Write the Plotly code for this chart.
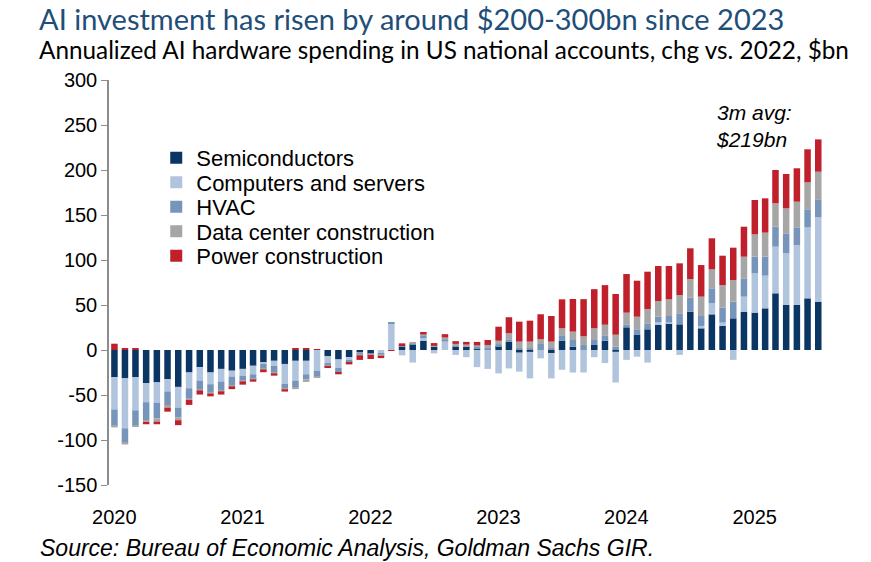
import pandas as pd
import plotly.graph_objects as go

# monthly, Jan 2020 - Jul 2025, $bn change vs. 2022 (annualized)
months = pd.date_range("2020-01-01", "2025-07-01", freq="MS")

semiconductors = [
    -30, -31.5, -30, -37, -36, -32.5, -41, -25, -19, -25, -21, -23,
    -21, -17.5, -13.5, -12, -15.5, -12, -12, 0, -7, -10.5, -8, -2.5,
    -4, 0, 0, 3.7, 6.5, 10.4, 3.7, 0, 3.7, 3.7, 1, 0,
    4.4, 9.3, -3, -2, 0, -3.5, 10.4, 3.7, 0, 5.6, 10.4, -1.9,
    25.2, 16.7, 23, 27.8, 29.6, 28.5, 42.6, 24.1, 39.6, 26.7, 35.2, 42.6,
    41.5, 46.3, 63, 50, 50, 57.4, 53.7,
]
computers_servers = [
    -36, -55.5, -37, -21, -22.5, -13.5, -23, -17.5, -15, -13, -14, -6.5,
    -7.5, -9.5, -2, -5.5, -22, -22, -15, -23, -7.5, -9.5, -3.5, 0,
    0, -4, 29.5, -6, -14, 3.3, -3.7, 9.3, -5.5, -8, -19, -21,
    -26, -20.5, -21, -29.5, -9.3, -28, -22, -25, -25, -8, -14.5, -34.3,
    -11, -7.4, -14, 2.9, 1.1, -5.5, 0, 2.6, 12.3, 3.7, -11, 16.7,
    43.7, 36.3, 51.8, 57.4, 66.7, 78.9, 93.7,
]
hvac = [
    -18, -16, -17, -20, -17.5, -16, -11, -11, -9.5, -9, -9.5, -9.5,
    -5.5, -5, -5.5, -7.5, -5.5, -7.5, -5.5, -6.5, -3, -4.5, -2, -3,
    -1, -1.5, 1.5, 1, 1, 2.2, 0, 2.6, 0.5, 0.5, 2.5, 3,
    2.2, 2.6, 1.9, 1.9, 6.7, 1.9, 5.2, 7.4, 5.6, 5.5, 5.3, 3.7,
    3.3, 6.3, 6.6, 6.3, 7.1, 12.2, 15.5, 11.1, 16.6, 16.6, 18.5, 20.3,
    18.5, 21.1, 22.2, 22.2, 19.6, 20, 20,
]
data_center = [
    -2, -2, -1.5, -2, -3.5, -2, -3, -2, -1.5, -1.5, -1.5, -1.5,
    -1, -0.7, -0.7, -1, -0.7, -2, -3, -1.5, -0.7, -0.5, -0.5, -0.5,
    -0.5, -1, 0, 0.5, 0.5, 1.5, 1, 2, 2.6, 1.8, 1.8, 2.6,
    3.7, 6.7, 7.4, 7.4, 5.2, 7.4, 8.5, 9.3, 9.6, 13, 12.4, 13.3,
    13, 14, 16, 17.4, 18.5, 20.4, 20.8, 21.5, 21.1, 25.2, 24.1, 24.1,
    24.8, 26.7, 26, 27.8, 28.5, 30, 30.7,
]
power = [
    7, 1.5, 1.5, -2.5, -3, -4.5, -5.5, -5.5, -4.5, -3, -3.5, -3,
    -3.5, -2.5, -3, -2.5, -2.5, 2, 2, 0.5, -1, -2, -2, -5,
    -4.5, -2.5, -1, 2.2, 0, 2.6, 3, 3.7, 3, 3, 3.7, 5.5,
    15.6, 17.8, 22.2, 23.3, 27.8, 28.5, 32.2, 36.3, 41.3, 43.5, 44, 45.2,
    42.9, 40, 41.4, 38.9, 37, 35.2, 34.1, 35.1, 34.5, 32.6, 35.9, 33.3,
    38.2, 38.1, 37, 38.2, 37.1, 36.7, 35.9,
]

names = ["Semiconductors", "Computers and servers", "HVAC",
         "Data center construction", "Power construction"]
colors = ["#0b3563", "#b1c4de", "#7795bb", "#a6a6a6", "#c0202b"]

year_ticks = ["2021-01-01", "2022-01-01", "2023-01-01", "2024-01-01", "2025-01-01"]
year_labels = ["2020", "2021", "2022", "2023", "2024", "2025"]
label_pos = [y + "-01-16" for y in year_labels]
y_ticks = [300, 250, 200, 150, 100, 50, 0, -50, -100, -150]

fig = go.Figure()
legend_ids = ["legend", "legend2", "legend3", "legend4", "legend5"]
for name, vals, col, lg in zip(names, [semiconductors, computers_servers, hvac, data_center, power],
                               colors, legend_ids):
    fig.add_trace(go.Bar(x=months, y=vals, name=name, marker_color=col, legend=lg,
                         marker_line_width=0, xperiod="M1", xperiodalignment="middle"))

# one legend per series so the row spacing can follow the original
legend_style = dict(x=0.062, xanchor="left", yanchor="middle", font=dict(size=22),
                    bgcolor="rgba(0,0,0,0)", borderwidth=0)
legend_rows = [158, 182.5, 207, 231.5, 256]
legends = {lg: dict(legend_style, y=(485 - py) / 405) for lg, py in zip(legend_ids, legend_rows)}

x_range = ["2020-01-01", "2025-12-14"]
fig.update_layout(
    width=871, height=562,
    barmode="relative", bargap=0.37,
    margin=dict(l=109, r=0, t=80, b=77, autoexpand=False),
    plot_bgcolor="white", paper_bgcolor="white",
    font=dict(family="Liberation Sans, Arial", size=20, color="black"),
    showlegend=True,
    xaxis=dict(type="date", range=x_range, tickvals=label_pos, ticktext=year_labels,
               showline=False, ticks="", showgrid=False, zeroline=False,
               ticklabelstandoff=18, automargin=False),
    xaxis2=dict(type="date", overlaying="x", anchor="free", position=1 / 3, range=x_range,
                showline=True, linecolor="#8c8c8c", linewidth=2, ticks="outside",
                ticklen=6, tickwidth=1.5, tickcolor="#8c8c8c", tickvals=year_ticks,
                showticklabels=False, showgrid=False, zeroline=False, automargin=False),
    yaxis=dict(range=[-150, 300], tickvals=y_ticks, ticktext=[str(v) for v in y_ticks],
               showline=True, linecolor="#8c8c8c", linewidth=1.5, ticks="outside",
               ticklen=6, tickcolor="#8c8c8c", showgrid=False, zeroline=False,
               automargin=False),
    **legends,
)

fig.add_annotation(text="AI investment has risen by around $200-300bn since 2023",
                   xref="paper", yref="paper", x=-0.0932, y=485 / 405, xanchor="left", yanchor="top",
                   showarrow=False, borderpad=0, font=dict(family="Lato", size=29, color="#1f4e79"))
fig.add_annotation(text="Annualized AI hardware spending in US national accounts, chg vs. 2022, $bn",
                   xref="paper", yref="paper", x=-0.0932, y=(485 - 49.5) / 405, xanchor="left",
                   yanchor="middle", showarrow=False, borderpad=0,
                   font=dict(family="Lato", size=24.3, color="black"))
fig.add_annotation(text="Source: Bureau of Economic Analysis, Goldman Sachs GIR.",
                   xref="paper", yref="paper", x=-0.0932, y=-0.156, xanchor="left", yanchor="middle",
                   showarrow=False, font=dict(size=23, style="italic"))
fig.add_annotation(text="3m avg:<br>$219bn", x="2025-01-14", y=249, xref="x", yref="y",
                   showarrow=False, align="left", font=dict(size=21, style="italic"))

# drop the browser's default 8px page margin so the figure fills the window
fig.write_html("out.html", config={"displayModeBar": False},
               post_script="document.body.style.margin = '0';")
